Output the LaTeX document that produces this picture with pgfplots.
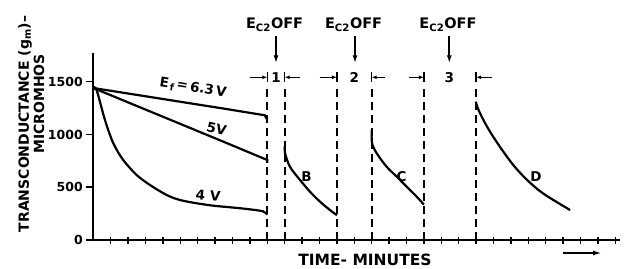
\documentclass[border=0pt]{standalone}
\usepackage{fontspec}
\setmainfont{DejaVu Sans}
\usepackage{pgfplots}
\pgfplotsset{compat=1.18}
\usetikzlibrary{arrows.meta}

\pgfplotstableread{
x y
0 1440
2.5 1375
5 1310
7.5 1245
9.85 1182
10 1140
}\tabA
\pgfplotstableread{
x y
0 1440
2.5 1270
5 1100
7.5 930
10 758
10 730
}\tabB
\pgfplotstableread{
x y
0 1440
0.19 1421
0.67 1137
1.15 916
1.72 758
2.49 616
3.26 521
4.22 426
4.98 379
5.94 348
6.9 325
7.86 310
8.82 294
9.75 272
10 240
}\tabC
\pgfplotstableread{
x y
11 890
11.02 822
11.3 694
11.88 569
12.45 458
13.03 363
13.6 284
14 235
}\tabBB
\pgfplotstableread{
x y
16 1040
16.02 916
16.29 821
16.86 694
17.44 600
18.01 505
18.59 410
19 335
}\tabCC
\pgfplotstableread{
x y
21.98 1311
22.14 1232
22.52 1106
22.9 1000
23.28 905
23.66 815
24.14 710
24.71 605
25.29 515
25.86 440
26.63 360
27.4 284
}\tabDD

\tikzset{lab/.style={font=\bfseries\fontsize{13.5bp}{15bp}\selectfont},
  iarr/.style={line width=1.5bp, -{Latex[length=5bp,width=4bp]}},
  bar/.style={line width=1.5bp},
  darr/.style={line width=1.7bp, -{Latex[length=8bp,width=5bp]}},
  dsh/.style={no marks, line width=2bp, dash pattern=on 8bp off 5bp}}

\begin{document}
\begin{tikzpicture}[x=1bp,y=1bp]
\path[use as bounding box] (0,0) rectangle (630,268);
\begin{axis}[
  at={(93.3bp,28bp)}, anchor=south west,
  scale only axis, width=526.7bp, height=186.8bp,
  xmin=0, xmax=30.27, ymin=0, ymax=1770,
  axis lines=left, axis line style={-, line width=2bp},
  xtick={1,...,30}, xticklabels={}, xtick align=center,
  ytick={0,500,1000,1500}, ytick align=outside,
  major tick length=7bp,
  tick style={line width=1.5bp, black},
  y tick label style={font=\bfseries\fontsize{12.5bp}{14bp}\selectfont},
  /pgf/number format/assume math mode=true,
  /pgf/number format/1000 sep={},
  clip=false,
  every axis plot/.append style={line width=2.2bp, black},
]
\addplot[no marks] table {\tabA};
\addplot[no marks] table {\tabB};
\addplot[no marks, smooth, tension=0.5] table {\tabC};
\addplot[no marks, smooth, tension=0.5] table {\tabBB};
\addplot[no marks, smooth, tension=0.5] table {\tabCC};
\addplot[no marks, smooth, tension=0.7] table {\tabDD};
% dashed lines
\addplot[dsh] coordinates {(10,0) (10,1460)};
\addplot[dsh] coordinates {(11,0) (11,1460)};
\addplot[dsh] coordinates {(14,0) (14,1460)};
\addplot[dsh] coordinates {(16,0) (16,1460)};
\addplot[dsh] coordinates {(19,0) (19,1460)};
\addplot[dsh] coordinates {(22,0) (22,1460)};
% interval markers
\draw[iarr] (axis cs:9.0,1542) -- (axis cs:10,1542);
\draw[iarr] (axis cs:11.9,1542) -- (axis cs:11,1542);
\draw[iarr] (axis cs:13.0,1542) -- (axis cs:14,1542);
\draw[iarr] (axis cs:16.76,1542) -- (axis cs:16,1542);
\draw[iarr] (axis cs:18.16,1542) -- (axis cs:19,1542);
\draw[iarr] (axis cs:22.93,1542) -- (axis cs:22,1542);
\draw[bar] (axis cs:10,1500) -- (axis cs:10,1590);
\draw[bar] (axis cs:11,1500) -- (axis cs:11,1590);
\draw[bar] (axis cs:14,1500) -- (axis cs:14,1590);
\draw[bar] (axis cs:16,1500) -- (axis cs:16,1590);
\draw[bar] (axis cs:19,1500) -- (axis cs:19,1590);
\draw[bar] (axis cs:22,1500) -- (axis cs:22,1590);
\node[lab] at (axis cs:10.5,1542) {1};
\node[lab] at (axis cs:15,1542) {2};
\node[lab] at (axis cs:20.46,1542) {3};
% Ec2 OFF
\draw[darr] (axis cs:10.5,1931) -- (axis cs:10.5,1674);
\draw[darr] (axis cs:15.04,1931) -- (axis cs:15.04,1674);
\draw[darr] (axis cs:20.46,1931) -- (axis cs:20.46,1674);
\node[lab, font=\bfseries\fontsize{14.5bp}{16bp}\selectfont] at (axis cs:10.42,2040) {E\textsubscript{C2}OFF};
\node[lab, font=\bfseries\fontsize{14.5bp}{16bp}\selectfont] at (axis cs:14.96,2040) {E\textsubscript{C2}OFF};
\node[lab, font=\bfseries\fontsize{14.5bp}{16bp}\selectfont] at (axis cs:20.38,2040) {E\textsubscript{C2}OFF};
% curve labels
\node[lab, rotate=-9] at (axis cs:5.73,1440) {E\kern1.5bp\raisebox{-0.4ex}{\fontsize{9.5bp}{10bp}\selectfont f}\,=\,6.3\,V};
\node[lab, rotate=-12] at (axis cs:7.09,1050) {5V};
\node[lab, rotate=-5] at (axis cs:6.6,420) {4 V};
\node[lab] at (axis cs:12.26,600) {B};
\node[lab] at (axis cs:17.72,600) {C};
\node[lab] at (axis cs:25.44,600) {D};
\end{axis}
\node[font=\bfseries\fontsize{15.5bp}{17bp}\selectfont] at (365,8) {TIME- MINUTES};
\draw[line width=1.7bp, -{Latex[length=9bp,width=5bp]}] (563,15) -- (602,15);
\node[font=\bfseries\fontsize{14bp}{16bp}\selectfont, rotate=90] at (25,144) {TRANSCONDUCTANCE (g\textsubscript{m})--};
\node[font=\bfseries\fontsize{14bp}{16bp}\selectfont, rotate=90] at (39,164) {MICROMHOS};
\end{tikzpicture}
\end{document}
